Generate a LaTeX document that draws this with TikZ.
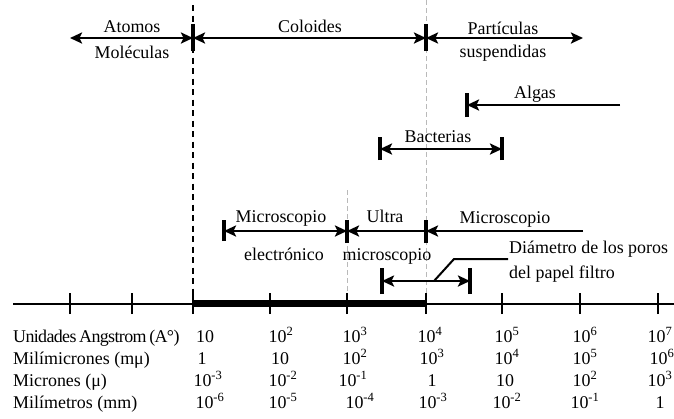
\documentclass[tikz,border=0pt]{standalone}
\usepackage{fontspec}
\setmainfont{Liberation Serif}
\newfontfamily\tightfont[LetterSpace=-3.5,WordSpace=0.7]{Liberation Serif}
\usetikzlibrary{arrows.meta}
\begin{document}
\begin{tikzpicture}[x=1bp,y=-1bp,
  >={Stealth[length=12bp,width=11bp,inset=2.5bp]},
  txt/.style={inner sep=0pt,anchor=base,font=\fontsize{18}{21}\selectfont},
  ltxt/.style={txt,anchor=base west},
  tight/.style={font=\tightfont\fontsize{18}{21}\selectfont},
  rng/.style={line width=2.5bp},
  endbar/.style={line width=4bp},
  leader/.style={line width=2bp},
  grayline/.style={gray!55,line width=0.7bp,dash pattern=on 5bp off 3bp},
  blackdash/.style={line width=2.2bp,dash pattern=on 6bp off 4.5bp},
  axisline/.style={line width=2bp},
  tickmark/.style={line width=2.5bp}]
\useasboundingbox (0,0) rectangle (674,418);

% ---------- scale axis ----------
\coordinate (ax0) at (13,304);
\coordinate (ax1) at (674,304);
\foreach \n/\x in {t1/70,t2/132,t3/193,t4/270,t5/347,t6/426,t7/502,t8/580,t9/658}
  \coordinate (\n) at (\x,304);

% boundary guide lines
\coordinate (g1top) at (193,5);
\coordinate (g2top) at (426,0);
\coordinate (g3top) at (347,190);
\draw[grayline] (g2top) -- (t6);
\draw[grayline] (g3top) -- (t5);
\draw[blackdash] (g1top) -- (t3);

\draw[axisline] (ax0) -- (ax1);
\foreach \n in {t1,t2,t3,t4,t5,t6,t7,t8,t9}
  \draw[tickmark] ([yshift=-10bp]\n) -- ([yshift=11bp]\n);
\draw[line width=7bp] ([yshift=1bp]t3) -- ([yshift=1bp]t6);

% ---------- top row: size classes ----------
\coordinate (am) at (70,38);
\coordinate (co-l) at (193,38);
\coordinate (co-r) at (426,38);
\coordinate (ps) at (583,38);
\draw[rng,<->] (am) -- (co-l);
\draw[rng,<->] (co-l) -- (co-r);
\draw[rng,<->] (co-r) -- (ps);
\draw[endbar] ([yshift=-13bp]co-l) -- ([yshift=14bp]co-l);
\draw[endbar] ([yshift=-13bp]co-r) -- ([yshift=14bp]co-r);
\node[txt] (atomos) at (132,32) {Atomos};
\node[txt] (molec) at (132,58) {Moléculas};
\node[txt] (coloides) at (310,32) {Coloides};
\node[txt] (partic) at (503,34) {Partículas};
\node[txt] (susp) at (503,57) {suspendidas};

% ---------- algae ----------
\coordinate (al-l) at (467,105);
\coordinate (al-r) at (620,105);
\draw[rng,->] (al-r) -- (al-l);
\draw[endbar] ([yshift=-12bp]al-l) -- ([yshift=12bp]al-l);
\node[txt] (algas) at (535,98) {Algas};

% ---------- bacteria ----------
\coordinate (ba-l) at (380,149);
\coordinate (ba-r) at (502,149);
\draw[rng,<->] (ba-l) -- (ba-r);
\draw[endbar] ([yshift=-11bp]ba-l) -- ([yshift=12bp]ba-l);
\draw[endbar] ([yshift=-11bp]ba-r) -- ([yshift=12bp]ba-r);
\node[txt] (bact) at (438,142) {Bacterias};

% ---------- microscopes ----------
\coordinate (me-l) at (224,231);
\coordinate (me-r) at (347,231);
\coordinate (mo-r) at (426,231);
\coordinate (mi-r) at (583,231);
\draw[rng,<->] (me-l) -- (me-r);
\draw[rng,->] (mo-r) -- (me-r);
\draw[rng,->] (mi-r) -- (mo-r);
\draw[endbar] ([yshift=-10bp]me-l) -- ([yshift=11bp]me-l);
\draw[endbar] ([yshift=-12bp]me-r) -- ([yshift=11bp]me-r);
\draw[endbar] ([yshift=-12bp]mo-r) -- ([yshift=11bp]mo-r);
\node[txt] (mic1) at (281,222) {Microscopio};
\node[txt] (elec) at (284,260) {electrónico};
\node[txt] (ultra) at (385,222) {Ultra};
\node[txt] (umic) at (387,260) {microscopio};
\node[txt] (mic2) at (505,223) {Microscopio};

% ---------- filter paper pores ----------
\coordinate (fp-l) at (382,281);
\coordinate (fp-r) at (470,281);
\draw[rng,<->] (fp-l) -- (fp-r);
\draw[endbar] ([yshift=-13bp]fp-l) -- ([yshift=13bp]fp-l);
\draw[endbar] ([yshift=-13bp]fp-r) -- ([yshift=13bp]fp-r);
\node[ltxt] (diam1) at (509,253) {Diámetro de los poros};
\node[ltxt] (diam2) at (509,278) {del papel filtro};
\coordinate (ld0) at (434,281);
\coordinate (ld1) at (454,259);
\coordinate (ld2) at (508,259);
\draw[leader] (ld0) -- (ld1) -- (ld2);

% ---------- unit table ----------
\node[ltxt,tight] (u1) at (13,342) {Unidades Angstrom (A°)};
\node[ltxt] (u2) at (13,364) {Milímicrones (mμ)};
\node[ltxt] (u3) at (13,386) {Micrones (μ)};
\node[ltxt] (u4) at (13,408) {Milímetros (mm)};

\foreach \x/\v [count=\i] in {205/10,281/10\textsuperscript{2},355/10\textsuperscript{3},
    430/10\textsuperscript{4},507/10\textsuperscript{5},585/10\textsuperscript{6},660/10\textsuperscript{7}}
  \node[txt] (ra\i) at (\x,342) {\v};
\foreach \x/\v [count=\i] in {202/1,280/10,355/10\textsuperscript{2},
    432/10\textsuperscript{3},507/10\textsuperscript{4},585/10\textsuperscript{5},662/10\textsuperscript{6}}
  \node[txt] (rb\i) at (\x,364) {\v};
\foreach \x/\v [count=\i] in {208/10\textsuperscript{-3},283/10\textsuperscript{-2},353/10\textsuperscript{-1},
    432/1,505/10,585/10\textsuperscript{2},660/10\textsuperscript{3}}
  \node[txt] (rc\i) at (\x,386) {\v};
\foreach \x/\v [count=\i] in {210/10\textsuperscript{-6},283/10\textsuperscript{-5},360/10\textsuperscript{-4},
    433/10\textsuperscript{-3},507/10\textsuperscript{-2},585/10\textsuperscript{-1},660/1}
  \node[txt] (rd\i) at (\x,408) {\v};
\end{tikzpicture}
\end{document}
